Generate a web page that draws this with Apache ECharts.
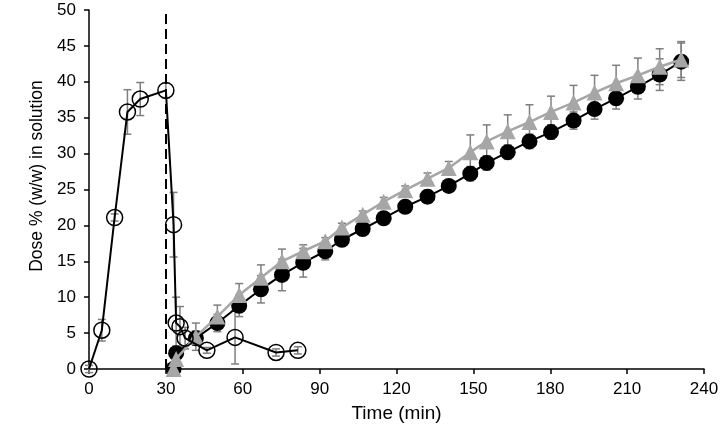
<!DOCTYPE html>
<html>
<head>
<meta charset="utf-8">
<script src="https://cdn.jsdelivr.net/npm/echarts@6/dist/echarts.min.js"></script>
<style>html,body{margin:0;padding:0;background:#fff}#c{width:722px;height:430px}</style>
</head>
<body>
<div id="c"></div>
<script>
// Open circles series
const openTime = [0, 5, 10, 15, 20, 30, 33, 34, 35.5, 37.5, 46, 57, 73, 81.5];
const openVal  = [0, 5.4, 21.1, 35.8, 37.6, 38.8, 20.1, 6.4, 5.9, 4.3, 2.6, 4.4, 2.3, 2.6];
const openErr  = [0.5, 1.5, 0.5, 3.1, 2.3, 1.0, 4.5, 3.6, 2.8, 1.5, 0.4, 3.7, 0.5, 0.5];

// Filled circles and grey triangles share time points
const dissTime = [33, 34, 41.7, 50.1, 58.6, 67.1, 75.3, 83.6, 92.2, 98.7, 106.8, 115, 123.4, 132.1, 140.4, 148.8, 155.2, 163.4, 171.9, 180.3, 189.1, 197.3, 205.7, 214.2, 222.7, 231.1];
const filledVal = [0, 2.2, 4.3, 6.4, 8.8, 11.1, 13.1, 14.8, 16.4, 18.0, 19.5, 21.0, 22.6, 24.0, 25.5, 27.2, 28.7, 30.2, 31.7, 33.0, 34.6, 36.2, 37.7, 39.3, 41.0, 42.8];
const filledErr = [0.3, 1.0, 1.0, 1.2, 1.5, 1.9, 2.2, 2.0, 1.2, 0.8, 0.8, 0.8, 0.8, 0.9, 0.7, 1.0, 1.0, 1.0, 1.0, 1.0, 1.2, 1.4, 1.5, 1.7, 2.2, 2.6];
const triVal = [0, 1.4, 4.5, 7.3, 10.3, 12.7, 15.0, 16.4, 17.8, 19.7, 21.5, 23.3, 24.9, 26.5, 28.0, 30.2, 31.7, 33.1, 34.4, 35.8, 37.1, 38.5, 39.8, 40.9, 42.1, 43.1];
const triErr = [0.3, 1.0, 1.9, 1.6, 1.6, 1.8, 1.7, 0.9, 0.5, 0.6, 0.5, 0.6, 0.6, 0.8, 0.9, 2.4, 2.3, 2.3, 2.4, 2.2, 2.4, 2.4, 2.5, 2.4, 2.5, 2.5];

const xTicks = {min: 0, max: 240, interval: 30};
const yTicks = {min: 0, max: 50, interval: 5};
const dashedAt = 30;

const FONT = '"Liberation Sans", Arial, sans-serif';
const ERR_COLOR = '#7f7f7f';

function pairs(t, v) { return t.map((x, i) => [x, v[i]]); }
function errSeries(t, v, e, z) {
  return {
    type: 'custom', z: z, silent: true,
    data: t.map((x, i) => [x, v[i] - e[i], v[i] + e[i]]),
    renderItem: function (params, api) {
      const lo = api.coord([api.value(0), api.value(1)]);
      const hi = api.coord([api.value(0), api.value(2)]);
      const w = 4;
      const st = {stroke: ERR_COLOR, lineWidth: 1.5};
      return {type: 'group', children: [
        {type: 'line', shape: {x1: lo[0], y1: lo[1], x2: hi[0], y2: hi[1]}, style: st},
        {type: 'line', shape: {x1: lo[0] - w, y1: lo[1], x2: lo[0] + w, y2: lo[1]}, style: st},
        {type: 'line', shape: {x1: hi[0] - w, y1: hi[1], x2: hi[0] + w, y2: hi[1]}, style: st}
      ]};
    }
  };
}

const chart = echarts.init(document.getElementById('c'), null, {renderer: 'canvas'});
chart.setOption({
  animation: false,
  backgroundColor: '#fff',
  grid: {left: 89, right: 18, top: 10, bottom: 61},
  xAxis: {
    type: 'value', min: xTicks.min, max: xTicks.max, interval: xTicks.interval,
    name: 'Time (min)', nameLocation: 'middle', nameGap: 35,
    nameTextStyle: {fontFamily: FONT, fontSize: 19, color: '#000'},
    axisLine: {show: true, onZero: false, lineStyle: {color: '#000', width: 1.5}},
    axisTick: {show: true, inside: false, length: 5, lineStyle: {color: '#000', width: 1.5}},
    axisLabel: {fontFamily: FONT, fontSize: 17, color: '#000', margin: 12},
    splitLine: {show: false}
  },
  yAxis: {
    type: 'value', min: yTicks.min, max: yTicks.max, interval: yTicks.interval,
    name: 'Dose % (w/w) in solution', nameLocation: 'middle', nameGap: 42, nameRotate: 90,
    nameTextStyle: {fontFamily: FONT, fontSize: 17.5, color: '#000', padding: [0, 0, 0, 27]},
    axisLine: {show: true, onZero: false, lineStyle: {color: '#000', width: 1.5}},
    axisTick: {show: true, inside: false, length: 5, lineStyle: {color: '#000', width: 1.5}},
    axisLabel: {fontFamily: FONT, fontSize: 17, color: '#000', margin: 13},
    splitLine: {show: false}
  },
  series: [
    errSeries(dissTime, filledVal, filledErr, 1),
    errSeries(dissTime, triVal, triErr, 1),
    errSeries(openTime, openVal, openErr, 1),
    {
      type: 'line', z: 3, data: pairs(dissTime, filledVal),
      symbol: 'circle', symbolSize: 16,
      lineStyle: {color: '#000', width: 2},
      itemStyle: {color: '#000', borderColor: '#000', borderWidth: 0}
    },
    {
      type: 'line', z: 4, data: pairs(dissTime, triVal),
      symbol: 'triangle', symbolSize: 16,
      lineStyle: {color: '#a6a6a6', width: 2.5},
      itemStyle: {color: '#a6a6a6', borderWidth: 0}
    },
    {
      type: 'line', z: 5, data: pairs(openTime, openVal),
      symbol: 'circle', symbolSize: 16,
      lineStyle: {color: '#000', width: 2},
      itemStyle: {color: 'rgba(255,255,255,0)', borderColor: '#000', borderWidth: 1.5},
      markLine: {
        silent: true, symbol: 'none', label: {show: false}, animation: false,
        lineStyle: {color: '#000', type: [10, 5], width: 2},
        data: [{xAxis: dashedAt}]
      }
    }
  ]
});
</script>
</body>
</html>
